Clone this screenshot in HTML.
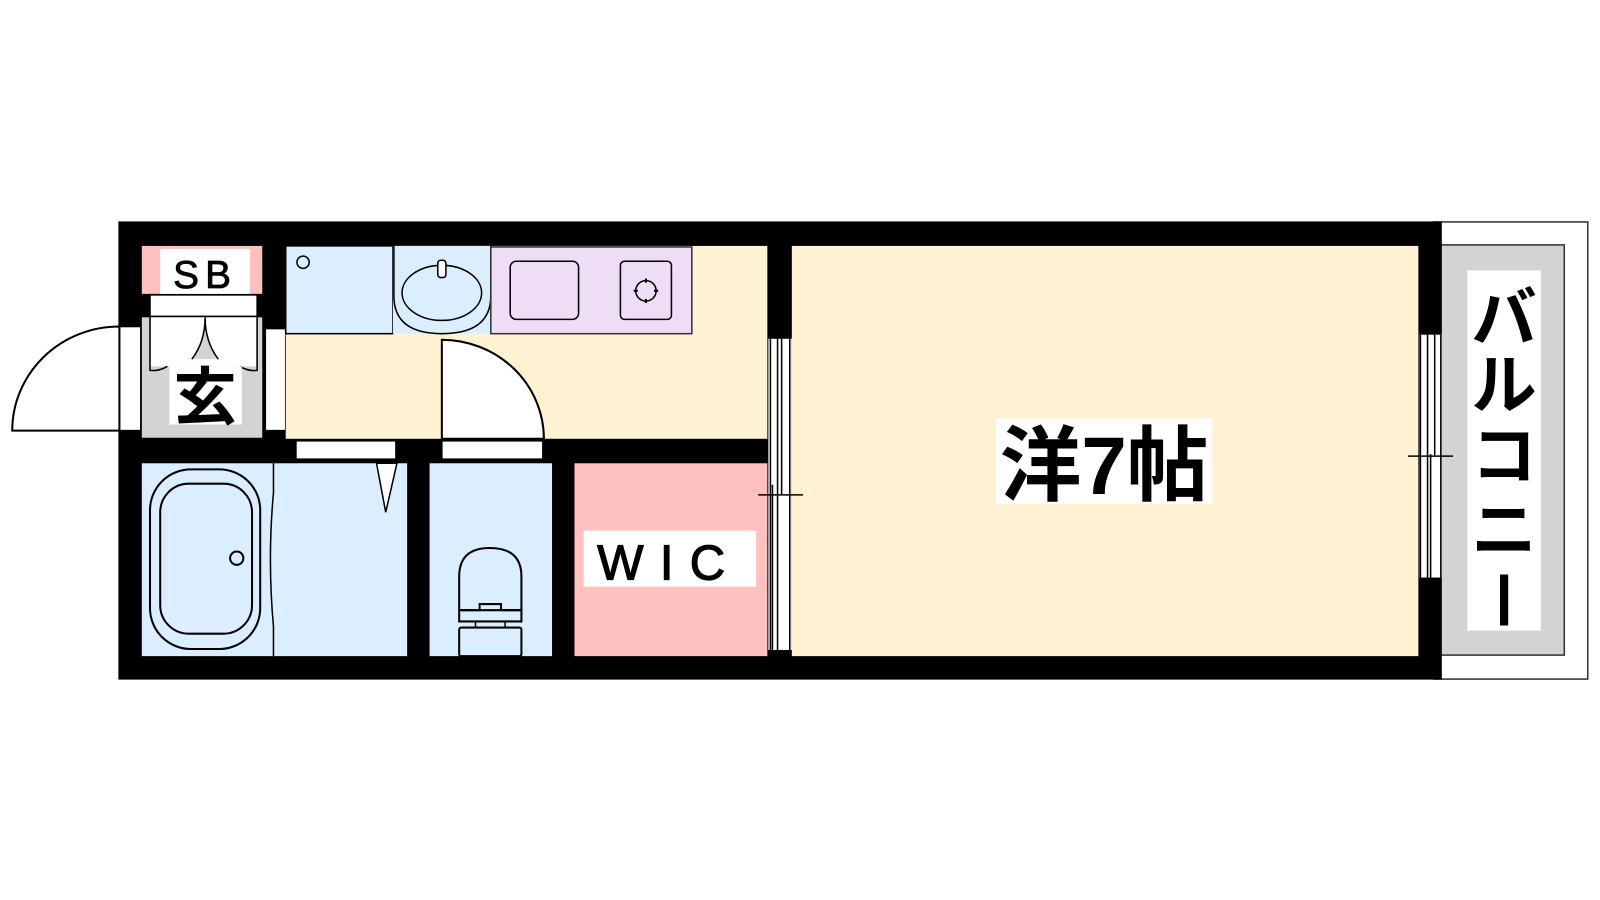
<!DOCTYPE html>
<html><head><meta charset="utf-8"><style>html,body{margin:0;padding:0;background:#fff;}svg{display:block}</style></head><body>
<svg width="1600" height="900" viewBox="0 0 1568 882" xmlns="http://www.w3.org/2000/svg" font-family="Liberation Sans, Noto Sans CJK JP, sans-serif">
<rect x="0" y="0" width="1568" height="882" fill="#fff"/>
<!-- balcony -->
<rect x="1405" y="217.5" width="151" height="448" fill="#fff" stroke="#333" stroke-width="1.5"/>
<rect x="1405" y="240" width="128" height="402" fill="#d3d3d3" stroke="#333" stroke-width="1.5"/>
<rect x="1438" y="265" width="72" height="353" fill="#fff"/>
<text x="1474" y="334" font-size="64" font-weight="bold" text-anchor="middle">バ</text>
<text x="1474" y="400" font-size="64" font-weight="bold" text-anchor="middle">ル</text>
<text x="1474" y="469" font-size="64" font-weight="bold" text-anchor="middle">コ</text>
<text x="1474" y="542" font-size="64" font-weight="bold" text-anchor="middle">ニ</text>
<rect x="1470" y="563" width="8" height="50" fill="#000"/>
<!-- outer black -->
<rect x="116" y="217" width="1297" height="449" fill="#000"/>
<!-- SB -->
<rect x="139" y="241" width="118" height="47" fill="#ffc0c0"/>
<rect x="157" y="244" width="88" height="44" fill="#fff"/>
<text x="201" y="282" font-size="38" text-anchor="middle" letter-spacing="6" stroke="#000" stroke-width="0.8">SB</text>
<rect x="147" y="289" width="105" height="21" fill="#fff" stroke="#000" stroke-width="1.5"/>
<!-- genkan -->
<rect x="139" y="311" width="118" height="118" fill="#d3d3d3"/>
<rect x="148" y="311" width="103" height="48" fill="#fff"/>
<path d="M147 311 V363 Q156 364 164 359 M252 311 V363 Q243 364 235 359" fill="none" stroke="#000" stroke-width="1.5"/>
<path d="M201 311 Q201 335 188 352 L214 352 Q201 335 201 311 Z" fill="#d3d3d3"/>
<path d="M201 311 Q201 335 188 352 M201 311 Q201 335 214 352" fill="none" stroke="#000" stroke-width="1.5"/>
<rect x="166" y="359" width="71" height="57" fill="#fff"/>
<text x="201" y="411" font-size="62" font-weight="bold" text-anchor="middle">玄</text>
<!-- entrance door -->
<rect x="117" y="320" width="21" height="102" fill="#fff" stroke="#000" stroke-width="1.5"/>
<path d="M117 320 A105 102 0 0 0 12 422 H117 Z" fill="#fff" stroke="#000" stroke-width="2"/>
<rect x="260" y="322" width="20" height="100" fill="#fff" stroke="#000" stroke-width="1.5"/>
<!-- corridor -->
<rect x="280" y="241" width="472" height="189" fill="#fff2d2"/>
<rect x="280" y="241" width="105" height="86" fill="#dbeeff" stroke="#000" stroke-width="1.5"/>
<circle cx="297" cy="257" r="6" fill="none" stroke="#000" stroke-width="1.5"/>
<rect x="385" y="241" width="96" height="86" fill="#dbeeff"/>
<path d="M386 241 V290 Q386 327 433 327 Q481 327 481 290 V241" fill="none" stroke="#000" stroke-width="1.5"/>
<ellipse cx="433" cy="287" rx="39" ry="27" fill="none" stroke="#000" stroke-width="1.5"/>
<rect x="429" y="255" width="8" height="17" rx="3" fill="#fff" stroke="#000" stroke-width="1.5"/>
<rect x="481" y="242" width="197" height="85" fill="#eeddf5" stroke="#333" stroke-width="1.5"/>
<rect x="500" y="256" width="67" height="57" rx="6" fill="none" stroke="#000" stroke-width="1.5"/>
<rect x="608" y="256" width="50" height="57" rx="4" fill="none" stroke="#000" stroke-width="1.5"/>
<circle cx="633" cy="285" r="10" fill="none" stroke="#000" stroke-width="1.5"/>
<path d="M633 273v4M633 293v4M621 285h4M641 285h4" stroke="#000" stroke-width="2"/>
<path d="M433 333 A100 97 0 0 1 533 430 H433 Z" fill="#fff" stroke="#000" stroke-width="2"/>
<!-- door bars -->
<rect x="290" y="432" width="98" height="18" fill="#fff" stroke="#000" stroke-width="1.5"/>
<rect x="433" y="432" width="99" height="18" fill="#fff" stroke="#000" stroke-width="1.5"/>
<!-- bath -->
<rect x="139" y="454" width="260" height="189" fill="#dbeeff"/>
<rect x="147" y="460" width="108" height="176" rx="40" fill="none" stroke="#000" stroke-width="2"/>
<rect x="157" y="474" width="90" height="147" rx="28" fill="none" stroke="#000" stroke-width="2"/>
<circle cx="232" cy="547" r="6.5" fill="none" stroke="#000" stroke-width="2"/>
<path d="M268 454 V483 Q262 548 268 614 V643" fill="none" stroke="#000" stroke-width="1.5"/>
<path d="M369 454 L378 502 L389 454 Z" fill="#fff" stroke="#000" stroke-width="1.5"/>
<!-- toilet -->
<rect x="421" y="454" width="120" height="189" fill="#dbeeff"/>
<path d="M450 598 V565 Q450 537 480 537 Q511 537 511 565 V598 Z" fill="none" stroke="#000" stroke-width="2"/>
<path d="M450 598 H470 V592 H491 V598 H511 V609 H450 Z" fill="none" stroke="#000" stroke-width="2"/>
<rect x="466" y="609" width="29" height="6" fill="none" stroke="#000" stroke-width="1.5"/>
<rect x="450" y="615" width="61" height="28" rx="2" fill="none" stroke="#000" stroke-width="2"/>
<!-- WIC -->
<rect x="563" y="454" width="189" height="189" fill="#ffc0c0"/>
<rect x="572" y="520" width="169" height="55" fill="#fff"/>
<text x="656" y="568" font-size="48" text-anchor="middle" letter-spacing="16" stroke="#000" stroke-width="1.2">WIC</text>
<!-- room -->
<rect x="776" y="241" width="614" height="402" fill="#fff2d2"/>
<rect x="976" y="410" width="212" height="84" fill="#fff"/>
<text x="1082" y="484" font-size="80" font-weight="bold" text-anchor="middle">洋7帖</text>
<!-- sliding door -->
<rect x="753" y="332" width="23" height="305" fill="#fff"/>
<path d="M755 332V637M762 332V637M766 332V485M774 332V637M757 475V637" stroke="#000" stroke-width="1.5"/>
<path d="M743 485H787" stroke="#000" stroke-width="1.5"/>
<!-- balcony window -->
<rect x="1391" y="328" width="22" height="238" fill="#fff"/>
<path d="M1392 328V566M1399 328V566M1406 328V447M1412 328V566M1402 445V566" stroke="#000" stroke-width="1.5"/>
<path d="M1380 447H1424" stroke="#000" stroke-width="1.5"/>
</svg>
</body></html>
